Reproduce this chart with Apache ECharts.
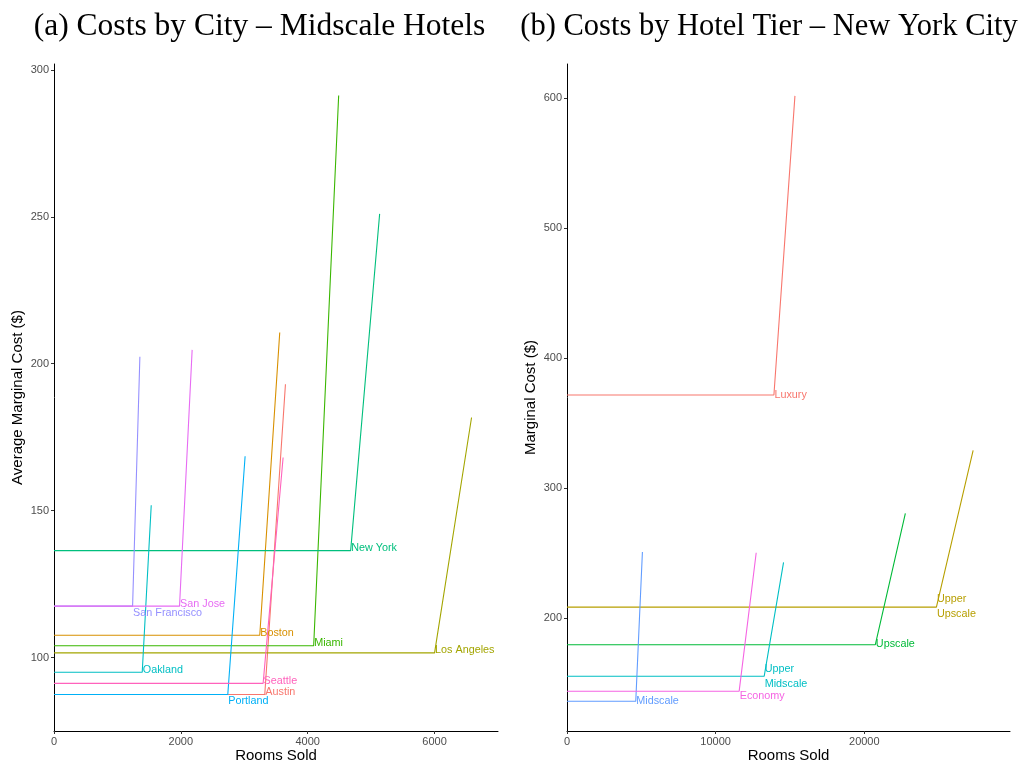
<!DOCTYPE html>
<html>
<head>
<meta charset="utf-8">
<title>Hotel marginal cost curves</title>
<script src="https://cdn.jsdelivr.net/npm/echarts@6/dist/echarts.min.js"></script>
<style>
  html, body { margin: 0; padding: 0; background: #ffffff; }
  #chart { width: 1021px; height: 762px; }
</style>
</head>
<body>
<div id="chart"></div>
<script>
// Panel (a): midscale hotels by city
const cities = ['Austin', 'Boston', 'Los Angeles', 'Miami', 'New York', 'Oakland',
                'Portland', 'San Francisco', 'San Jose', 'Seattle'];
const cityFlatCost = [87.4, 107.6, 101.6, 104.0, 136.4, 95.0, 87.4, 117.5, 117.5, 91.2];
const cityCapacity = [3323, 3244, 6000, 4094, 4677, 1391, 2740, 1239, 1979, 3297];
const cityPeakRooms = [3649, 3559, 6583, 4488, 5134, 1533, 3013, 1354, 2178, 3612];
const cityPeakCost = [193.0, 210.6, 181.7, 291.3, 251.0, 151.8, 168.5, 202.4, 204.7, 168.1];

// Panel (b): New York City by hotel tier
const tiers = ['Luxury', 'Upper Upscale', 'Upscale', 'Upper Midscale', 'Midscale', 'Economy'];
const tierFlatCost = [371.7, 208.7, 179.8, 155.6, 136.4, 144.1];
const tierCapacity = [13919, 24849, 20741, 13266, 4626, 11582];
const tierPeakRooms = [15333, 27320, 22761, 14567, 5073, 12727];
const tierPeakCost = [601.5, 329.2, 280.8, 243.1, 251.0, 250.5];

// Tick labels
const cityRoomTicks = [0, 2000, 4000, 6000];
const cityCostTicks = [100, 150, 200, 250, 300];
const tierRoomTicks = [0, 10000, 20000];
const tierCostTicks = [200, 300, 400, 500, 600];

// ggplot-style hue palettes
const cityColors = ['#F8766D', '#D89000', '#A3A500', '#39B600', '#00BF7D', '#00BFC4',
                    '#00B0F6', '#9590FF', '#E76BF3', '#FF62BC'];
const tierColors = ['#F8766D', '#B79F00', '#00BA38', '#00BFC4', '#619CFF', '#F564E3'];

// Label text and small vertical nudges so neighbouring labels don't collide
const tierLabelText = { 'Upper Upscale': 'Upper\nUpscale', 'Upper Midscale': 'Upper\nMidscale' };
const cityLabelDy = { 'San Francisco': 6.7, 'Portland': 6.7 };
const tierLabelDy = { 'Luxury': 0, 'Upper Upscale': -1, 'Upscale': -1, 'Upper Midscale': 0,
                      'Midscale': 0, 'Economy': 4.6 };

const SANS = '"Liberation Sans", Arial, Helvetica, sans-serif';

function curveSeries(name, color, flat, cap, peakX, peakY, axis, labelText, dy) {
  return {
    type: 'line',
    name: name,
    xAxisIndex: axis,
    yAxisIndex: axis,
    animation: false,
    silent: true,
    symbol: 'circle',
    symbolSize: 0,
    showSymbol: true,
    lineStyle: { color: color, width: 1.1 },
    itemStyle: { color: color },
    emphasis: { disabled: true },
    data: [
      [0, flat],
      {
        value: [cap, flat],
        label: {
          show: true,
          position: 'right',
          distance: 0,
          offset: [0.5, dy],
          formatter: labelText,
          color: color,
          fontFamily: SANS,
          fontSize: 10.8,
          lineHeight: 15
        }
      },
      [peakX, peakY]
    ]
  };
}

const series = [];
cities.forEach((c, i) => {
  series.push(curveSeries(c, cityColors[i], cityFlatCost[i], cityCapacity[i],
    cityPeakRooms[i], cityPeakCost[i], 0, c,
    cityLabelDy[c] !== undefined ? cityLabelDy[c] : -2.4));
});
tiers.forEach((t, i) => {
  series.push(curveSeries(t, tierColors[i], tierFlatCost[i], tierCapacity[i],
    tierPeakRooms[i], tierPeakCost[i], 1, tierLabelText[t] || t, tierLabelDy[t]));
});

const plainNumber = v => String(v);

function xAxisDef(idx, max, ticks) {
  return {
    type: 'value', gridIndex: idx, min: 0, max: max,
    name: 'Rooms Sold', nameLocation: 'middle', nameGap: 17, nameMoveOverlap: false,
    nameTextStyle: { color: '#000', fontFamily: SANS, fontSize: 15 },
    axisLine: { show: true, lineStyle: { color: '#000', width: 1 } },
    axisTick: { show: true, length: 3, customValues: ticks, lineStyle: { color: '#333', width: 1 } },
    axisLabel: { customValues: ticks, formatter: plainNumber, color: '#4D4D4D',
                 fontFamily: SANS, fontSize: 11, margin: 5 },
    splitLine: { show: false }
  };
}
function yAxisDef(idx, min, max, ticks, title) {
  return {
    type: 'value', gridIndex: idx, min: min, max: max,
    name: title, nameLocation: 'middle', nameGap: 29, nameRotate: 90, nameMoveOverlap: false,
    nameTextStyle: { color: '#000', fontFamily: SANS, fontSize: 15 },
    axisLine: { show: true, lineStyle: { color: '#000', width: 1 } },
    axisTick: { show: true, length: 3, customValues: ticks, lineStyle: { color: '#333', width: 1 } },
    axisLabel: { customValues: ticks, formatter: plainNumber, color: '#4D4D4D',
                 fontFamily: SANS, fontSize: 11, margin: 5 },
    splitLine: { show: false }
  };
}

const chart = echarts.init(document.getElementById('chart'), null, { renderer: 'canvas' });
chart.setOption({
  backgroundColor: '#ffffff',
  animation: false,
  grid: [
    { left: 54, top: 64, width: 444, height: 667, outerBoundsMode: 'none' },
    { left: 567, top: 64, width: 443, height: 667, outerBoundsMode: 'none' }
  ],
  xAxis: [xAxisDef(0, 7000, cityRoomTicks), xAxisDef(1, 29800, tierRoomTicks)],
  yAxis: [
    yAxisDef(0, 75, 302, cityCostTicks, 'Average Marginal Cost ($)'),
    yAxisDef(1, 113.5, 626, tierCostTicks, 'Marginal Cost ($)')
  ],
  graphic: [
    {
      type: 'text', x: 259.5, y: 27,
      style: {
        text: '(a) Costs by City \u2013 Midscale Hotels',
        font: '31.5px "Liberation Serif", "Times New Roman", serif',
        fill: '#000', textAlign: 'center', textVerticalAlign: 'middle'
      }
    },
    {
      type: 'text', x: 769, y: 27,
      style: {
        text: '(b) Costs by Hotel Tier \u2013 New York City',
        font: '30.5px "Liberation Serif", "Times New Roman", serif',
        fill: '#000', textAlign: 'center', textVerticalAlign: 'middle'
      }
    }
  ],
  series: series
});
</script>
</body>
</html>
